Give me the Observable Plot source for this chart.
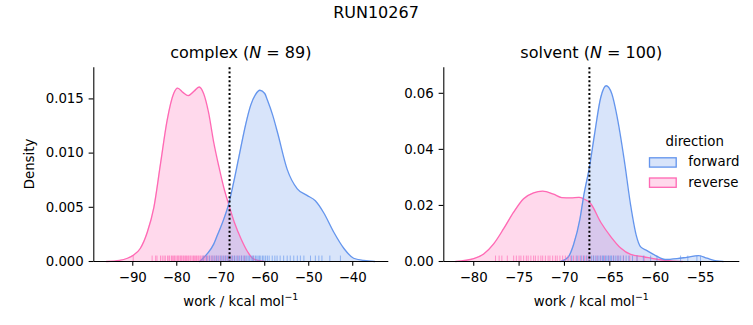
<!DOCTYPE html>
<html>
<head>
<meta charset="utf-8">
<script src="https://cdn.jsdelivr.net/npm/d3@7"></script>
<script src="https://cdn.jsdelivr.net/npm/@observablehq/plot@0.6"></script>
<style>
  body { margin: 0; background: #fff; }
  #fig { position: relative; width: 753px; height: 325px; font-family: "DejaVu Sans"; color: #000; overflow: hidden; background: #fff; }
  #fig > svg { position: absolute; top: 0; }
</style>
</head>
<body>
<div id="fig"></div>
<script>
// ---------------- data ----------------
const figureTitle = "RUN10267";
const directions = ["forward", "reverse"];
const directionColors = ["#6495ED", "#FF69B4"];
const phases = ["complex", "solvent"];
const sampleCounts = [89, 100];
const xAxisLabel = "work / kcal mol";
const xAxisLabelSup = "−1";
const yAxisLabel = "Density";
const legendTitle = "direction";

// complex: KDE curves
const complexForwardWork = [-74.8, -73.1, -71.6, -70.8, -69.5, -68.2, -66.8, -65.5, -64.3, -63.2, -62.1, -61.1, -60.0, -59.4, -58.2, -57.1, -54.9, -52.6, -50.4, -48.5, -46.6, -44.3, -42.0, -39.8, -37.5, -35.0];
const complexForwardDensity = [0, 0.0007, 0.0016, 0.0024, 0.0037, 0.0053, 0.0078, 0.0104, 0.0127, 0.0144, 0.0154, 0.0158, 0.0155, 0.0149, 0.0135, 0.0119, 0.0085, 0.0067, 0.0061, 0.0056, 0.0045, 0.0027, 0.0012, 0.0003, 0.0001, 0];
const complexReverseWork = [-96.0, -93.0, -91.2, -89.8, -88.3, -86.7, -85.2, -83.7, -82.2, -80.7, -79.8, -78.6, -77.4, -76.1, -74.9, -73.9, -72.8, -71.6, -70.4, -69.3, -68.3, -66.9, -65.4, -63.9, -62.8, -61.5, -60.0];
const complexReverseDensity = [0, 0.0001, 0.0003, 0.0006, 0.0012, 0.0027, 0.0050, 0.0090, 0.0130, 0.0155, 0.0160, 0.0156, 0.0153, 0.0157, 0.0161, 0.0155, 0.0138, 0.0110, 0.0087, 0.0068, 0.0054, 0.0036, 0.0021, 0.0009, 0.0003, 0.0001, 0];

// solvent: KDE curves
const solventForwardWork = [-70.4, -69.6, -69.0, -68.3, -67.9, -67.2, -66.7, -66.0, -65.4, -64.8, -64.1, -63.4, -62.7, -62.1, -61.6, -60.9, -60.0, -58.9, -57.6, -56.5, -55.2, -54.3, -53.2, -52.5];
const solventForwardDensity = [0, 0.0015, 0.0060, 0.0150, 0.0230, 0.0345, 0.0450, 0.0585, 0.0627, 0.0600, 0.0500, 0.0360, 0.0200, 0.0095, 0.0052, 0.0039, 0.0022, 0.0007, 0.0010, 0.0015, 0.0021, 0.0012, 0.0002, 0];
const solventReverseWork = [-82.0, -80.0, -78.9, -77.8, -76.7, -75.6, -74.5, -73.4, -72.4, -71.2, -70.3, -69.3, -68.4, -67.9, -67.1, -66.0, -64.9, -63.8, -62.7, -61.3, -59.8, -58.3, -57.0];
const solventReverseDensity = [0, 0.0010, 0.0027, 0.0063, 0.0117, 0.0176, 0.0224, 0.0245, 0.0251, 0.0240, 0.0228, 0.0227, 0.0229, 0.0224, 0.0206, 0.0140, 0.0089, 0.0048, 0.0025, 0.0017, 0.0008, 0.0002, 0];

// rug samples (estimated positions)
const complexForwardRug = [-74.0, -73.2, -72.6, -72.0, -71.5, -71.0, -70.6, -70.1, -69.7, -69.3, -68.9, -68.5, -68.1, -67.7, -67.3, -66.9, -66.5, -66.1, -65.7, -65.3, -64.9, -64.5, -64.2, -63.8, -63.5, -63.1, -62.8, -62.5, -62.1, -61.8, -61.5, -61.2, -60.9, -60.5, -60.2, -59.8, -59.4, -59.0, -58.3, -57.7, -57.2, -56.5, -55.7, -54.9, -54.2, -53.4, -52.6, -51.9, -51.1, -49.6, -48.5, -47.7, -47.0, -45.2, -42.8];
const complexReverseRug = [-89.9, -85.6, -84.8, -84.5, -83.7, -83.3, -82.9, -82.6, -82.1, -81.8, -81.6, -81.2, -81.0, -80.7, -80.5, -80.2, -79.9, -79.7, -79.5, -79.2, -79.0, -78.8, -78.5, -78.3, -78.0, -77.8, -77.5, -77.3, -77.0, -76.8, -76.5, -76.2, -76.0, -75.7, -75.5, -75.2, -75.0, -74.7, -74.5, -74.2, -73.9, -73.6, -73.3, -73.0, -72.6, -72.2, -71.8, -71.3, -70.9, -70.4, -69.9, -69.3, -68.8, -68.2, -67.5, -66.9, -66.1, -65.3, -64.6, -62.5];
const solventForwardRug = [-69.2, -68.6, -68.2, -67.9, -67.6, -67.3, -67.0, -66.8, -66.6, -66.4, -66.2, -66.0, -65.8, -65.7, -65.5, -65.4, -65.2, -65.1, -64.9, -64.8, -64.6, -64.4, -64.2, -64.0, -63.8, -63.5, -63.2, -62.9, -62.5, -62.0, -61.3, -60.5, -59.8, -57.2, -56.4, -55.4, -55.0];
const solventReverseRug = [-77.6, -77.2, -76.9, -76.3, -75.6, -75.3, -75.0, -74.8, -74.5, -74.2, -74.0, -73.7, -73.4, -73.2, -72.9, -72.6, -72.4, -72.1, -71.8, -71.6, -71.3, -71.0, -70.8, -70.5, -70.2, -69.9, -69.6, -69.3, -69.0, -68.7, -68.4, -68.1, -67.8, -67.5, -67.2, -66.8, -66.4, -66.0, -65.6, -65.1, -64.6, -64.1, -63.5, -62.8, -62.0, -61.2];

// free energy estimates (dotted lines)
const freeEnergyEstimates = [-68.0, -67.25];

// axes
const complexXTicks = [-90, -80, -70, -60, -50, -40];
const complexYTicks = [0, 0.005, 0.010, 0.015];
const solventXTicks = [-80, -75, -70, -65, -60, -55];
const solventYTicks = [0, 0.02, 0.04, 0.06];
const complexXDomain = [-98.86, -31.8];
const complexYDomain = [0, 0.01787];
const solventXDomain = [-83.3, -50.67];
const solventYDomain = [0, 0.0691];
const rugHeightFraction = 0.028;

// ---------------- build tables ----------------
function curveRows(dir, xs, ys) { return xs.map((x, i) => ({direction: dir, work: x, density: ys[i]})); }
function rugRows(dir, xs) { return xs.map(x => ({direction: dir, work: x})); }

const panels = [
  {
    curves: [...curveRows("reverse", complexReverseWork, complexReverseDensity), ...curveRows("forward", complexForwardWork, complexForwardDensity)],
    rug: [...rugRows("reverse", complexReverseRug), ...rugRows("forward", complexForwardRug)],
    est: freeEnergyEstimates[0], xTicks: complexXTicks, yTicks: complexYTicks,
    xDomain: complexXDomain, yDomain: complexYDomain, yFmt: d3.format(".3f"),
    left: 0, width: 400, mLeft: 93.3, mRight: 11.7
  },
  {
    curves: [...curveRows("reverse", solventReverseWork, solventReverseDensity), ...curveRows("forward", solventForwardWork, solventForwardDensity)],
    rug: [...rugRows("reverse", solventReverseRug), ...rugRows("forward", solventForwardRug)],
    est: freeEnergyEstimates[1], xTicks: solventXTicks, yTicks: solventYTicks,
    xDomain: solventXDomain, yDomain: solventYDomain, yFmt: d3.format(".2f"),
    left: 400, width: 353, mLeft: 43.3, mRight: 13.7
  }
];

const H = 325, mTop = 67.3, mBottom = 64;
const fig = document.getElementById("fig");

panels.forEach(p => {
  const rugTop = p.yDomain[0] + rugHeightFraction * (p.yDomain[1] - p.yDomain[0]);
  const svg = Plot.plot({
    width: p.width, height: H,
    marginLeft: p.mLeft, marginRight: p.mRight, marginTop: mTop, marginBottom: mBottom,
    style: {fontFamily: "DejaVu Sans", fontSize: "13.33px", color: "black", background: "transparent", overflow: "visible"},
    x: {domain: p.xDomain, label: null},
    y: {domain: p.yDomain, label: null},
    color: {domain: directions, range: directionColors},
    marks: [
      Plot.areaY(p.curves, {x: "work", y1: p.yDomain[0], y2: "density", z: "direction", fill: "direction", fillOpacity: 0.25, curve: "monotone-x"}),
      Plot.lineY(p.curves, {x: "work", y: "density", z: "direction", stroke: "direction", strokeWidth: 1.33, curve: "monotone-x"}),
      Plot.ruleX(p.rug, {x: "work", y1: p.yDomain[0], y2: rugTop, stroke: "direction", strokeOpacity: 0.65, strokeWidth: 1}),
      Plot.ruleX([p.est], {stroke: "black", strokeWidth: 2, strokeDasharray: "2,2.3"}),
      Plot.ruleX([p.xDomain[0]], {stroke: "black", strokeWidth: 1.07}),
      Plot.ruleY([p.yDomain[0]], {stroke: "black", strokeWidth: 1.07}),
      Plot.axisX({ticks: p.xTicks, tickFormat: d3.format("d"), tickSize: 4.67, tickPadding: 6, label: null, strokeWidth: 1.07}),
      Plot.axisY({ticks: p.yTicks, tickFormat: p.yFmt, tickSize: 4.67, tickPadding: 5.3, label: null, strokeWidth: 1.07})
    ]
  });
  svg.style.left = p.left + "px";
  fig.appendChild(svg);
});

// ---------------- text overlay: titles, axis labels, legend ----------------
const ov = d3.select(fig).append("svg")
  .attr("width", 753).attr("height", 325)
  .style("left", "0px").style("font-family", "DejaVu Sans").style("pointer-events", "none");

ov.append("text").attr("x", 376).attr("y", 18.3).attr("text-anchor", "middle").attr("font-size", 16).text(figureTitle);

const centers = [panels[0].mLeft + (panels[0].width - panels[0].mLeft - panels[0].mRight) / 2,
                 panels[1].left + panels[1].mLeft + (panels[1].width - panels[1].mLeft - panels[1].mRight) / 2];

phases.forEach((ph, i) => {
  const t = ov.append("text").attr("x", centers[i]).attr("y", 58.3).attr("text-anchor", "middle").attr("font-size", 16);
  t.append("tspan").text(ph + " (");
  t.append("tspan").attr("font-style", "italic").text("N");
  t.append("tspan").text(" = " + sampleCounts[i] + ")");

  const xl = ov.append("text").attr("x", centers[i]).attr("y", 305.5).attr("text-anchor", "middle").attr("font-size", 13.33);
  xl.append("tspan").text(xAxisLabel);
  xl.append("tspan").attr("dy", -5.5).attr("font-size", 9.4).text(xAxisLabelSup);
});

ov.append("text").attr("transform", "translate(34,164) rotate(-90)").attr("text-anchor", "middle").attr("font-size", 13.33).text(yAxisLabel);

// legend
ov.append("text").attr("x", 694.7).attr("y", 146.3).attr("text-anchor", "middle").attr("font-size", 13.33).text(legendTitle);
directions.forEach((d, i) => {
  const y0 = 157.8 + i * 20.2;
  ov.append("rect").attr("x", 649.5).attr("y", y0).attr("width", 26.7).attr("height", 9.3)
    .attr("fill", directionColors[i]).attr("fill-opacity", 0.25)
    .attr("stroke", directionColors[i]).attr("stroke-width", 1.33);
  ov.append("text").attr("x", 688.3).attr("y", y0 + 8.6).attr("font-size", 13.33).text(d);
});
</script>
</body>
</html>
